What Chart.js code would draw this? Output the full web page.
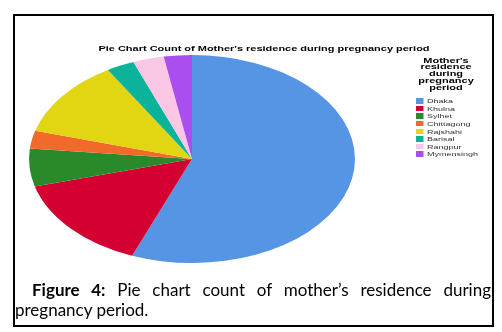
<!DOCTYPE html>
<html>
<head>
<meta charset="utf-8">
<script src="https://cdn.jsdelivr.net/npm/chart.js@4.4.4/dist/chart.umd.min.js"></script>
<style>
  html, body { margin: 0; padding: 0; background: #fff; }
  #wrap { position: relative; width: 502px; height: 332px; overflow: hidden; }
  #frame {
    position: absolute; left: 13px; top: 14px; width: 481px; height: 313px;
    border: 2px solid #000; box-sizing: border-box;
  }
  #chartBox { position: absolute; left: 0; top: 0; width: 502px; height: 332px; }
  .wide {
    position: absolute; white-space: nowrap;
    font-family: 'Liberation Sans', Arial, sans-serif;
  }
  #title {
    left: 114px; width: 300px; top: 45px; text-align: center;
    font-size: 7px; font-weight: bold; line-height: 8px; color: #000;
    transform: scaleX(1.567); transform-origin: center top;
  }
  #legendTitle {
    left: 406px; width: 80px; top: 57.6px; text-align: center;
    font-size: 7px; font-weight: bold; line-height: 6.8px; color: #000;
    transform: scaleX(1.567); transform-origin: center top;
  }
  #legendItems {
    left: 416px; top: 98.2px; font-size: 6px; line-height: 7.6px; color: #333;
    transform: scaleX(1.5); transform-origin: left top;
  }
  #legendItems .sw {
    display: inline-block; width: 5.3px; height: 5.5px; margin-right: 2px;
    vertical-align: -0.5px;
  }
  #caption {
    position: absolute; left: 15px; width: 476px; top: 280px;
    font-family: Lato, 'Open Sans', sans-serif; font-size: 17px; line-height: 20px; color: #000;
  }
  #caption .l1 { text-align: justify; text-align-last: justify; padding-left: 17px; }
</style>
</head>
<body>
<div id="wrap">
  <div id="frame"></div>
  <div id="chartBox"><canvas id="pie"></canvas></div>
  <div id="title" class="wide"></div>
  <div id="legendTitle" class="wide"></div>
  <div id="legendItems" class="wide"></div>
  <div id="caption">
    <div class="l1"><b>Figure 4:</b> Pie chart count of mother’s residence during</div>
    <div>pregnancy period.</div>
  </div>
</div>
<script>
// ── Data ───────────────────────────────────────────────────────────────────
const chartTitle  = "Pie Chart Count of Mother's residence during pregnancy period";
const legendTitle = ["Mother's", 'residence', 'during', 'pregnancy', 'period'];
const residence   = ['Dhaka', 'Khulna', 'Sylhet', 'Chittagong', 'Rajshahi', 'Barisal', 'Rangpur', 'Mymensingh'];
const counts      = [201, 53, 21, 10, 43, 10, 11, 10];
const colors      = ['#5595e3', '#d50032', '#2a8a2b', '#f16a2b', '#e2d612', '#0cb39b', '#fbc7e4', '#aa4ef0'];

// the source figure was stretched sideways, so the pie is an ellipse
const STRETCH = 1.567;

// ── Text ───────────────────────────────────────────────────────────────────
document.getElementById('title').textContent = chartTitle;
document.getElementById('legendTitle').innerHTML = legendTitle.join('<br>');
document.getElementById('legendItems').innerHTML = residence
  .map((r, i) => `<div><span class="sw" style="background:${colors[i]}"></span>${r}</div>`)
  .join('');

// ── Chart ──────────────────────────────────────────────────────────────────
const stretchPlugin = {
  id: 'stretch',
  beforeDatasetsDraw(chart) {
    const { ctx, chartArea: a } = chart;
    const cx = (a.left + a.right) / 2;
    const cy = (a.top + a.bottom) / 2;
    ctx.save();
    ctx.translate(cx, cy);
    ctx.scale(STRETCH, 1);
    ctx.translate(-cx, -cy);
  },
  afterDatasetsDraw(chart) {
    chart.ctx.restore();
  },
};

new Chart(document.getElementById('pie').getContext('2d'), {
  type: 'pie',
  data: {
    labels: residence,
    datasets: [{
      data: counts,
      backgroundColor: colors,
      borderWidth: 0,
      hoverOffset: 0,
      clip: false,
    }],
  },
  options: {
    responsive: true,
    maintainAspectRatio: false,
    animation: false,
    events: [],
    layout: { padding: { left: 88, right: 206, top: 55, bottom: 69 } },
    plugins: { legend: { display: false }, title: { display: false }, tooltip: { enabled: false } },
  },
  plugins: [stretchPlugin],
});
</script>
</body>
</html>
